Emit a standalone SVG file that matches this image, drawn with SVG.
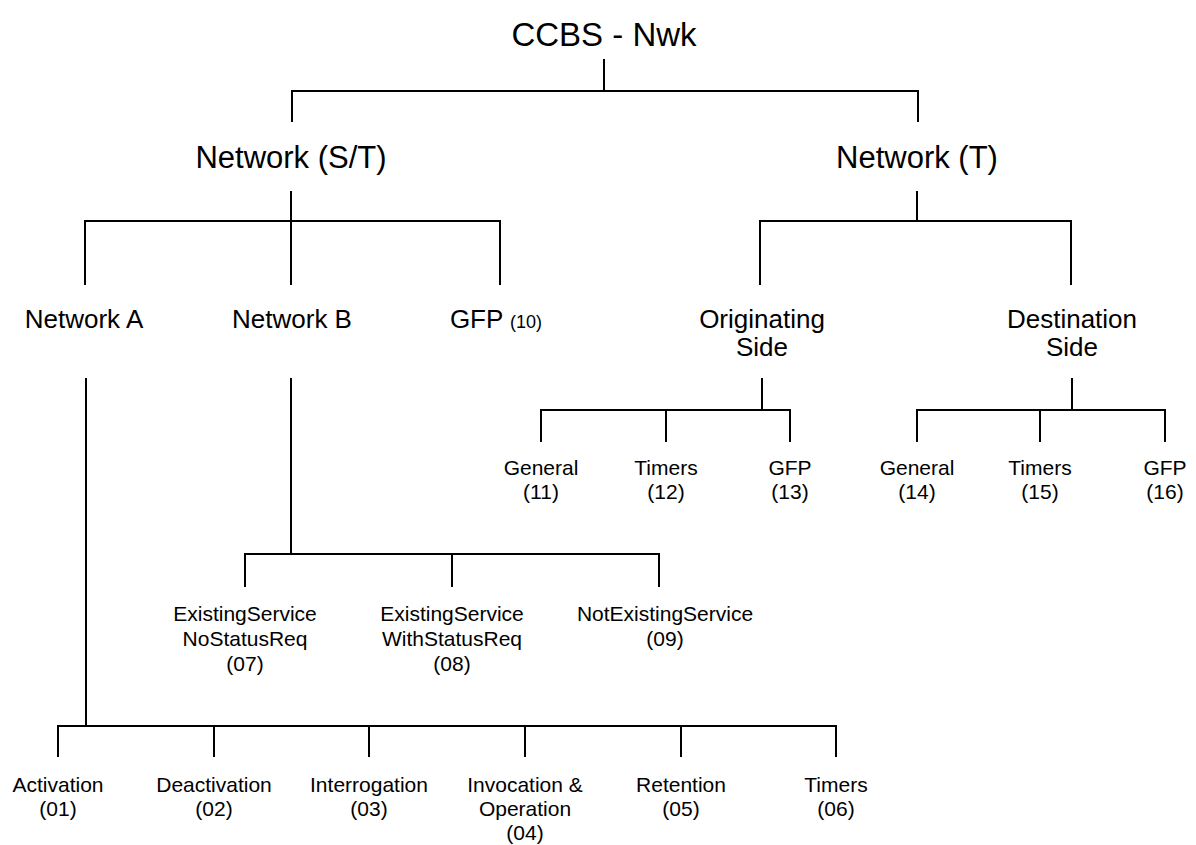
<svg xmlns="http://www.w3.org/2000/svg" width="1196" height="845" viewBox="0 0 1196 845">
<style>
text{font-family:"Liberation Sans",Arial,sans-serif;fill:#000;text-anchor:middle}
.t0{font-size:33px}
.t1{font-size:31px}
.t2{font-size:26px}
.t3{font-size:21px}
.sm{font-size:18px}
#connectors path{fill:none;stroke:#000;stroke-width:2;stroke-linecap:butt}
</style>
<rect width="1196" height="845" fill="#fff"/>
<g id="connectors">
<path d="M604 59V91M292 122V91H918V122"/>
<path d="M291 191V221M85 285V221H500V285M291 221V285"/>
<path d="M917 191V221M760 285V221H1071V285"/>
<path d="M762 378V410M541 442V410H790V442M666 410V442"/>
<path d="M1072 378V410M917 442V410H1165V442M1040 410V442"/>
<path d="M291 378V554M245 587V554H659V587M452 554V587"/>
<path d="M86 378V726M58 757V726H836V757M214 726V757M369 726V757M525 726V757M681 726V757"/>
</g>
<g id="root"><text class="t0" x="604" y="46">CCBS - Nwk</text></g>
<g id="networkST"><text class="t1" x="291" y="168">Network (S/T)</text></g>
<g id="networkT"><text class="t1" x="917" y="168">Network (T)</text></g>
<g id="networkA"><text class="t2" x="84" y="328">Network A</text></g>
<g id="networkB"><text class="t2" x="292" y="328">Network B</text></g>
<g id="gfp10"><text class="t2" x="496" y="328">GFP <tspan class="sm">(10)</tspan></text></g>
<g id="originating"><text class="t2" x="762" y="328">Originating</text><text class="t2" x="762" y="356">Side</text></g>
<g id="destination"><text class="t2" x="1072" y="328">Destination</text><text class="t2" x="1072" y="356">Side</text></g>
<g id="n11"><text class="t3" x="541" y="475">General</text><text class="t3" x="541" y="499">(11)</text></g>
<g id="n12"><text class="t3" x="666" y="475">Timers</text><text class="t3" x="666" y="499">(12)</text></g>
<g id="n13"><text class="t3" x="790" y="475">GFP</text><text class="t3" x="790" y="499">(13)</text></g>
<g id="n14"><text class="t3" x="917" y="475">General</text><text class="t3" x="917" y="499">(14)</text></g>
<g id="n15"><text class="t3" x="1040" y="475">Timers</text><text class="t3" x="1040" y="499">(15)</text></g>
<g id="n16"><text class="t3" x="1165" y="475">GFP</text><text class="t3" x="1165" y="499">(16)</text></g>
<g id="n07"><text class="t3" x="245" y="621">ExistingService</text><text class="t3" x="245" y="646">NoStatusReq</text><text class="t3" x="245" y="671">(07)</text></g>
<g id="n08"><text class="t3" x="452" y="621">ExistingService</text><text class="t3" x="452" y="646">WithStatusReq</text><text class="t3" x="452" y="671">(08)</text></g>
<g id="n09"><text class="t3" x="665" y="621">NotExistingService</text><text class="t3" x="665" y="646">(09)</text></g>
<g id="n01"><text class="t3" x="58" y="792">Activation</text><text class="t3" x="58" y="816">(01)</text></g>
<g id="n02"><text class="t3" x="214" y="792">Deactivation</text><text class="t3" x="214" y="816">(02)</text></g>
<g id="n03"><text class="t3" x="369" y="792">Interrogation</text><text class="t3" x="369" y="816">(03)</text></g>
<g id="n04"><text class="t3" x="525" y="792">Invocation &amp;</text><text class="t3" x="525" y="816">Operation</text><text class="t3" x="525" y="840">(04)</text></g>
<g id="n05"><text class="t3" x="681" y="792">Retention</text><text class="t3" x="681" y="816">(05)</text></g>
<g id="n06"><text class="t3" x="836" y="792">Timers</text><text class="t3" x="836" y="816">(06)</text></g>
</svg>
